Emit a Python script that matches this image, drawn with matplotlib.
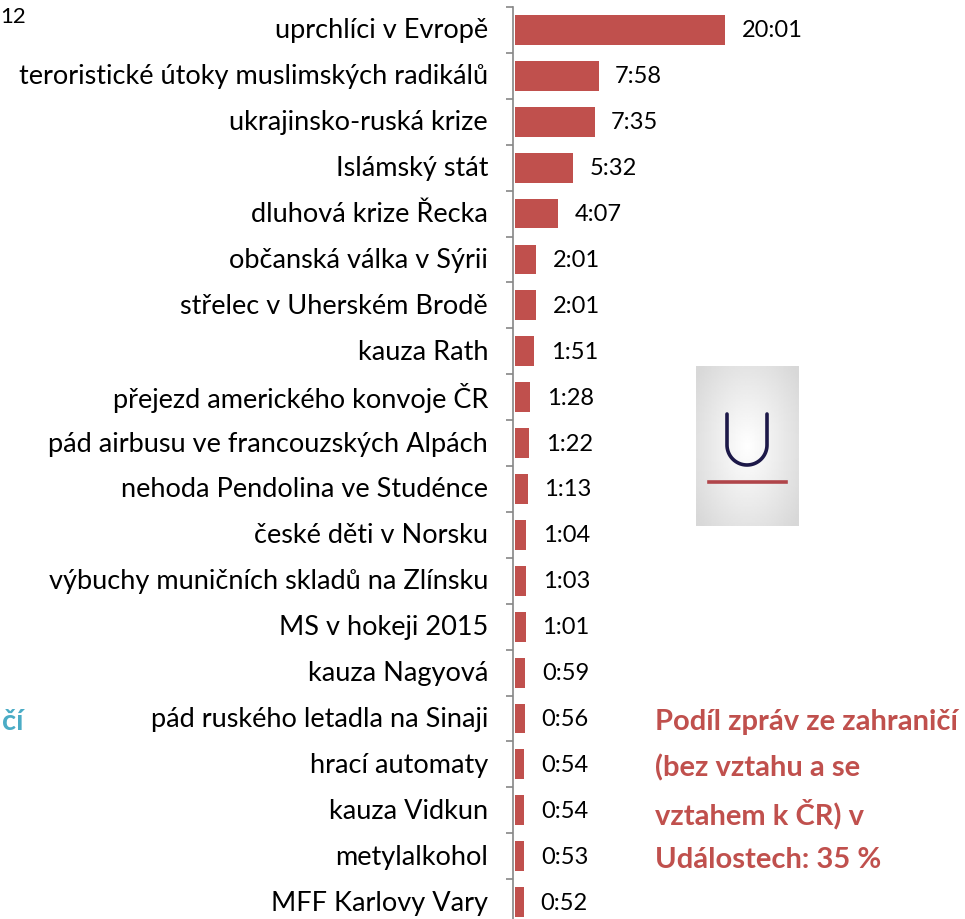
import matplotlib
matplotlib.use("Agg")
import matplotlib.pyplot as plt
import numpy as np

# témata a stopáž (sekundy)
temata = [
    "uprchlíci v Evropě",
    "teroristické útoky muslimských radikálů",
    "ukrajinsko-ruská krize",
    "Islámský stát",
    "dluhová krize Řecka",
    "občanská válka v Sýrii",
    "střelec v Uherském Brodě",
    "kauza Rath",
    "přejezd amerického konvoje ČR",
    "pád airbusu ve francouzských Alpách",
    "nehoda Pendolina ve Studénce",
    "české děti v Norsku",
    "výbuchy muničních skladů na Zlínsku",
    "MS v hokeji 2015",
    "kauza Nagyová",
    "pád ruského letadla na Sinaji",
    "hrací automaty",
    "kauza Vidkun",
    "metylalkohol",
    "MFF Karlovy Vary",
]
stopaz = [1201, 478, 455, 332, 247, 121, 121, 111, 88, 82,
          73, 64, 63, 61, 59, 56, 54, 54, 53, 52]
popisky = ["20:01", "7:58", "7:35", "5:32", "4:07", "2:01", "2:01", "1:51", "1:28", "1:22",
           "1:13", "1:04", "1:03", "1:01", "0:59", "0:56", "0:54", "0:54", "0:53", "0:52"]

FONT = "Lato"
RED = "#C0504D"
W, H = 965, 920

fig = plt.figure(figsize=(W / 100, H / 100), dpi=100)
# osa: spine na x=513 px, horní okraj 8 px
ax = fig.add_axes([513 / W, 0, (W - 513) / W, (H - 8) / H])
y = np.arange(len(temata))
ax.barh(y, stopaz, height=0.65, color=RED, left=0)
ax.set_xlim(-11, 2572)
ax.set_ylim((H - 31) / 45.9, -0.5)
ax.set_xticks([])
ax.set_yticks(np.arange(len(temata)) - 0.5)
ax.set_yticklabels([])
ax.tick_params(axis="y", length=5, color="#868686", width=1.2, direction="out")
for s in ["top", "right", "bottom"]:
    ax.spines[s].set_visible(False)
ax.spines["left"].set_color("#868686")
ax.spines["left"].set_linewidth(1.2)
ax.spines["left"].set_position(("data", -11))

for i, (t, v, lab) in enumerate(zip(temata, stopaz, popisky)):
    ax.annotate(t, (-11, i), xytext=(-18, 0), textcoords="offset points",
                ha="right", va="center", fontsize=19.5, family=FONT, color="black")
    ax.annotate(lab, (v, i), xytext=(12, 0), textcoords="offset points",
                ha="left", va="center", fontsize=17, family=FONT, color="black")

# zbytky textu z okolního snímku
fig.text(0 / W, 1 - 17 / H, "12", fontsize=16, family=FONT, va="center", ha="left")
fig.text(2 / W, 1 - 722 / H, "čí", fontsize=21, family=FONT, weight="bold",
         color="#4BACC6", va="center", ha="left")
for k, line in enumerate(["Podíl zpráv ze zahraničí", "(bez vztahu a se",
                          "vztahem k ČR) v", "Událostech: 35 %"]):
    fig.text(655 / W, 1 - (722 + 46 * k) / H, line, fontsize=21, family=FONT,
             weight="bold", color=RED, va="center", ha="left")

# logo
lax = fig.add_axes([696 / W, 1 - 527 / H, 102 / W, 160 / H])
gx, gy = np.meshgrid(np.linspace(-1, 1, 60), np.linspace(-1, 1, 90))
lax.imshow(1 - 0.12 * np.clip(np.hypot(gx, gy * 0.9), 0, 1.3), cmap="gray",
           vmin=0, vmax=1, extent=(0, 102, 160, 0), aspect="auto")
th = np.linspace(np.pi, 2 * np.pi, 40)
ux = np.concatenate([[31], 51 + 20 * np.cos(th), [71]])
uy = np.concatenate([[48], 79 - 20 * np.sin(th), [48]])
lax.plot(ux, uy, color="#1c1848", lw=2.6, solid_capstyle="round")
lax.plot([13, 90], [116, 116], color="#B0454A", lw=2.6)
lax.set_xlim(0, 102)
lax.set_ylim(160, 0)
lax.axis("off")

fig.savefig("out.png", dpi=100)
